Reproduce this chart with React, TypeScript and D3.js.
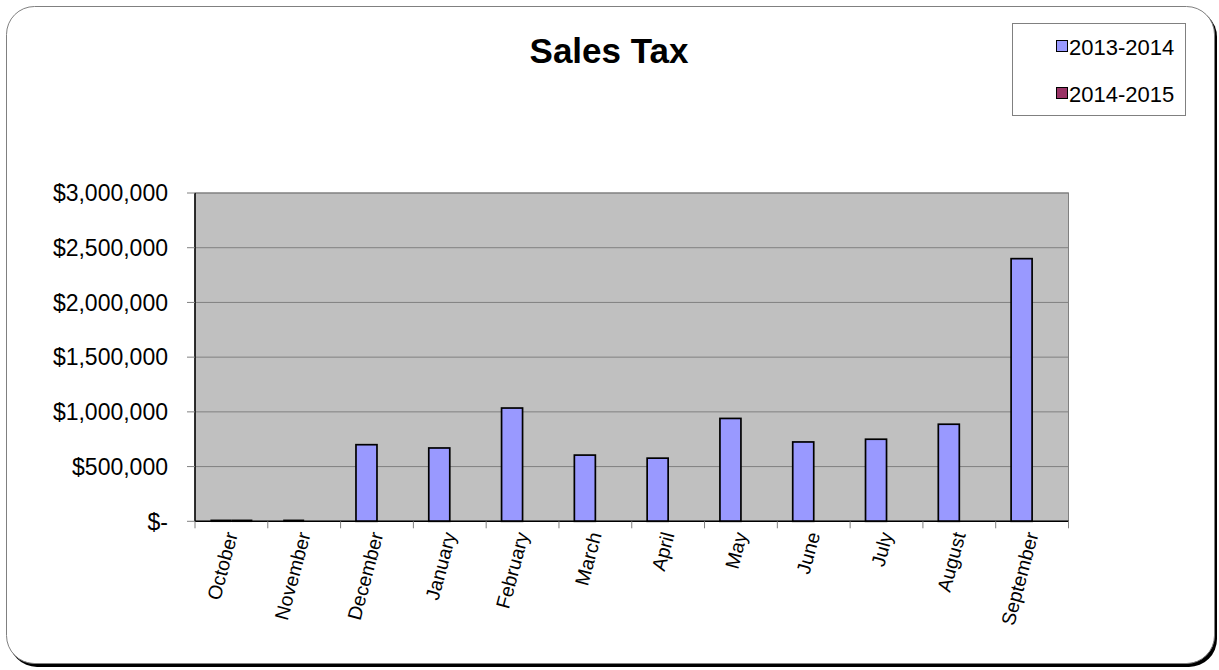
import React from "react";
import * as d3 from "d3";

const months = ["October","November","December","January","February","March","April","May","June","July","August","September"];
const series1Name = "2013-2014";
const series2Name = "2014-2015";
const series1 = [0, 0, 700000, 670000, 1035000, 605000, 577000, 940000, 725000, 750000, 887000, 2400000];
const series2: (number | null)[] = [0, null, null, null, null, null, null, null, null, null, null, null];
const yTicks = [0, 500000, 1000000, 1500000, 2000000, 2500000, 3000000];
const title = "Sales Tax";

const W = 1219, H = 670;
const FONT = "'Liberation Sans', Arial, Helvetica, sans-serif";
const plot = { x0: 195, x1: 1068.5, y0: 193, y1: 521.3 };
const c1 = "#9999FF", c2 = "#993366";

const fmt = (v: number) => v === 0 ? "$-" : "$" + d3.format(",")(v);

export default function App() {
  const x = d3.scaleBand<string>().domain(months).range([plot.x0, plot.x1]).paddingInner(0).paddingOuter(0);
  const y = d3.scaleLinear().domain([0, 3000000]).range([plot.y1, plot.y0]);
  const bw = x.bandwidth();
  const barW = 21;
  const groupOff = (bw - 2 * barW) / 2;

  const bars: React.ReactNode[] = [];
  const drawBar = (key: string, xs: number, v: number | null, color: string) => {
    if (v === null || v === undefined) return;
    const top = y(v);
    if (plot.y1 - top < 1) {
      bars.push(<line key={key} x1={xs} x2={xs + barW} y1={plot.y1 - 0.5} y2={plot.y1 - 0.5} stroke="#000" strokeWidth={2.5} />);
    } else {
      bars.push(<rect key={key} x={xs} y={top} width={barW} height={plot.y1 - top} fill={color} stroke="#000" strokeWidth={1.7} />);
    }
  };
  months.forEach((m, i) => {
    const bx = (x(m) as number) + groupOff;
    drawBar("a" + i, bx, series1[i], c1);
    drawBar("b" + i, bx + barW, series2[i], c2);
  });

  return (
    <svg width={W} height={H} style={{ position: "absolute", left: 0, top: 0, fontFamily: FONT }}>
      <rect x={0} y={0} width={W} height={H} fill="#fff" />
      {/* chart border with shadow */}
      <rect x={9} y={9} width={1208} height={658} rx={28} ry={28} fill="#000" />
      <rect x={6.5} y={6.5} width={1208} height={657} rx={28} ry={28} fill="#fff" stroke="#808080" strokeWidth={1} />

      <text x={609} y={63} textAnchor="middle" fontSize={35} fontWeight="bold" fill="#000">{title}</text>

      {/* legend */}
      <rect x={1012.5} y={23.5} width={173} height={92} fill="#fff" stroke="#808080" strokeWidth={1} />
      <rect x={1056.5} y={40.5} width={11} height={11} fill={c1} stroke="#000" strokeWidth={1} />
      <text x={1069} y={54.5} fontSize={22} fill="#000">{series1Name}</text>
      <rect x={1056.5} y={87.5} width={11} height={11} fill={c2} stroke="#000" strokeWidth={1} />
      <text x={1069} y={101.5} fontSize={22} fill="#000">{series2Name}</text>

      {/* plot area */}
      <rect x={plot.x0} y={plot.y0} width={plot.x1 - plot.x0} height={plot.y1 - plot.y0} fill="#C0C0C0" stroke="#808080" strokeWidth={1} />
      {yTicks.filter(t => t > 0).map(t => (
        <line key={"g" + t} x1={plot.x0} x2={plot.x1} y1={y(t)} y2={y(t)} stroke="#808080" strokeWidth={1} />
      ))}
      {bars}
      {/* axes */}
      <line x1={plot.x0} x2={plot.x0} y1={plot.y0} y2={plot.y1} stroke="#000" strokeWidth={1.5} />
      <line x1={plot.x0} x2={plot.x1} y1={plot.y1} y2={plot.y1} stroke="#000" strokeWidth={1.5} />
      {yTicks.map(t => (
        <g key={"yt" + t}>
          <line x1={plot.x0 - 8} x2={plot.x0} y1={y(t)} y2={y(t)} stroke="#808080" strokeWidth={1} />
          <text x={168} y={y(t)} dy="0.36em" textAnchor="end" fontSize={23} fill="#000">{fmt(t)}</text>
        </g>
      ))}
      {months.map((m, i) => (
        <line key={"xt" + i} x1={(x(m) as number) + bw} x2={(x(m) as number) + bw} y1={plot.y1} y2={plot.y1 + 7} stroke="#808080" strokeWidth={1} />
      ))}
      <line x1={plot.x0} x2={plot.x0} y1={plot.y1} y2={plot.y1 + 7} stroke="#808080" strokeWidth={1} />
      {months.map((m) => {
        const cx = (x(m) as number) + bw / 2;
        return (
          <text key={"xl" + m} transform={`translate(${cx + 6.5},${plot.y1 + 13}) rotate(-75)`} textAnchor="end" fontSize={19.5} fill="#000">{m}</text>
        );
      })}
    </svg>
  );
}
